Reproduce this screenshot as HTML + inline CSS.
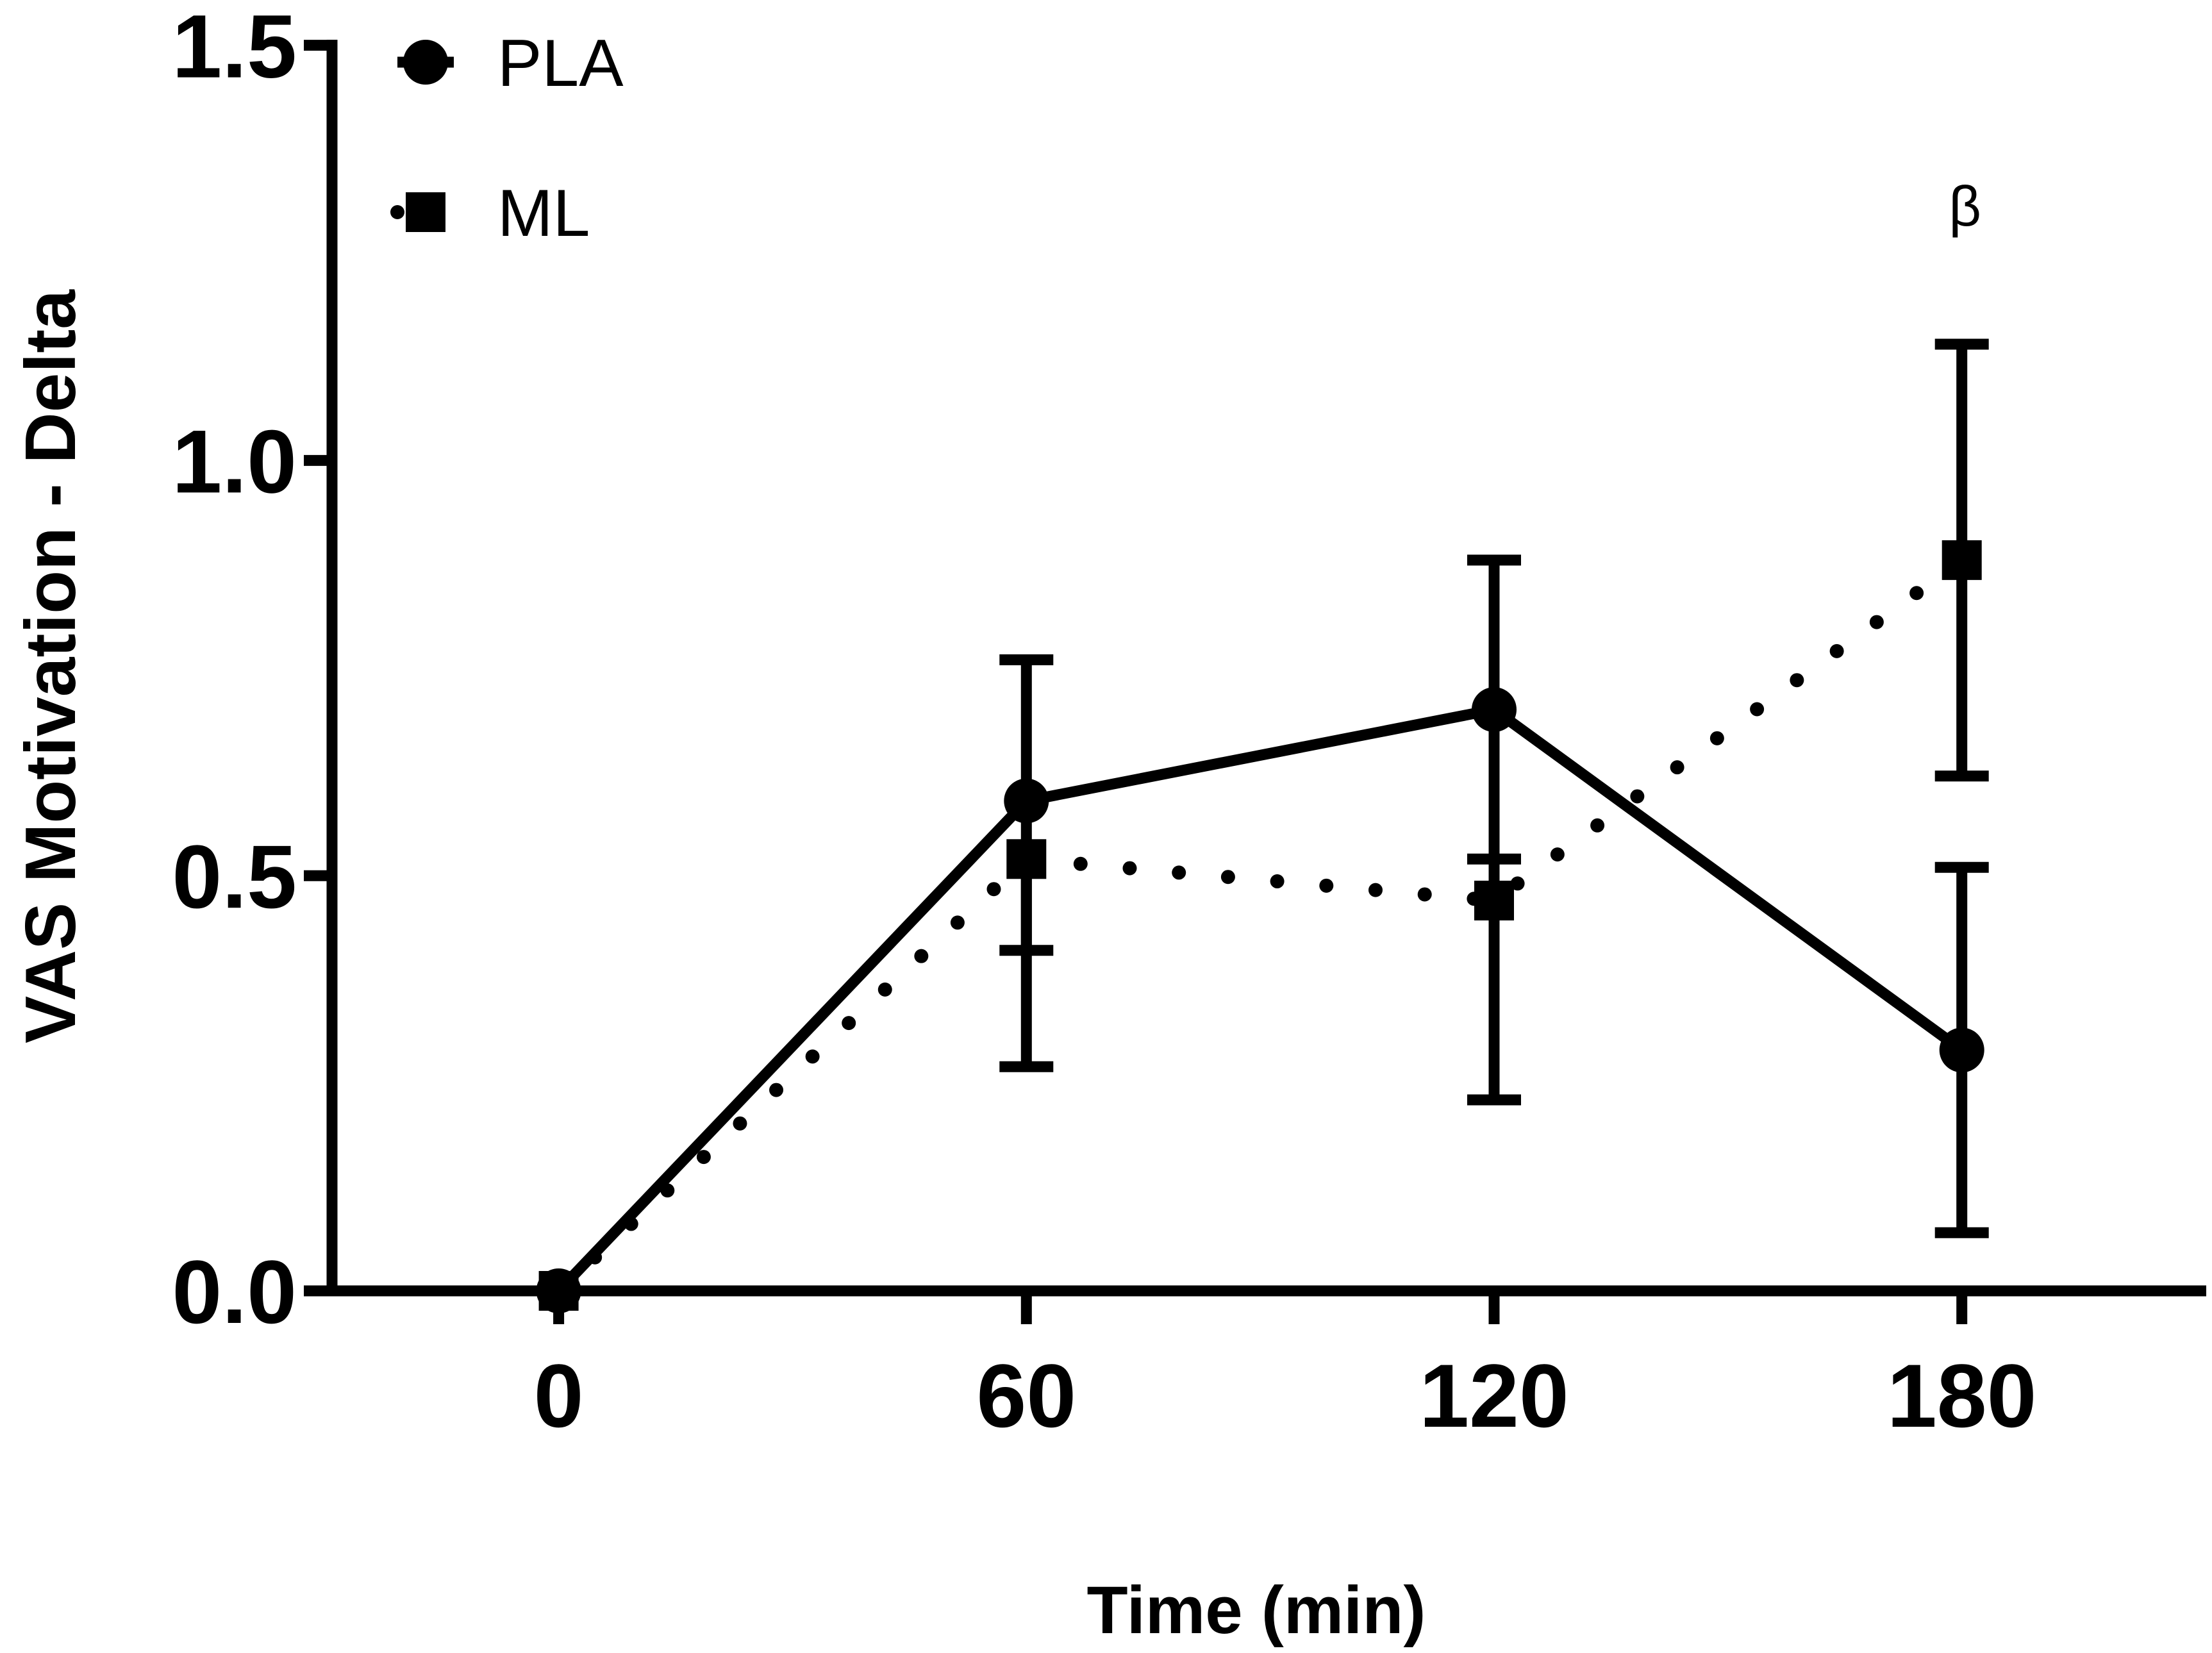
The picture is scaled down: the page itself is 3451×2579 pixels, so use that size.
<!DOCTYPE html>
<html><head><meta charset="utf-8"><style>
html,body{margin:0;padding:0;background:#fff}
svg{display:block}
text{font-family:"Liberation Sans",Arial,sans-serif}
</style></head><body>
<svg id="chart" width="3451" height="2579" viewBox="0 0 3451 2579" xmlns="http://www.w3.org/2000/svg"></svg>
<script>
const categories = [0, 60, 120, 180];
const plaValues = [0, 0.59, 0.70, 0.29];
const plaUpper = [0, 0.76, 0.88, 0.51];
const plaLower = [0, 0.27, 0.23, 0.07];
const mlValues = [0, 0.52, 0.47, 0.88];
const mlUpper = [0, 0.52, 0.52, 1.14];
const mlLower = [0, 0.41, 0.47, 0.62];
const yTicks = [0, 0.5, 1.0, 1.5];
const yTickLabels = ["0.0", "0.5", "1.0", "1.5"];
const xTickLabels = ["0", "60", "120", "180"];

const NS = "http://www.w3.org/2000/svg";
const svg = document.getElementById('chart');
const X0 = 871.6, XPER = 729.7 / 60;
const Y0 = 2014, YPER = 1295.6;
const SW = 17;
const xs = v => X0 + v * XPER;
const ys = v => Y0 - v * YPER;
function el(tag, attrs, parent) {
  const e = document.createElementNS(NS, tag);
  for (const k in attrs) e.setAttribute(k, attrs[k]);
  (parent || svg).appendChild(e);
  return e;
}
let a = el('line', {x1:518, y1:62, x2:518, y2:2022, stroke:'#000', 'stroke-width':SW});


a = el('line', {x1:496, y1:2014, x2:3442, y2:2014, stroke:'#000', 'stroke-width':SW});


yTicks.forEach((t, i) => {
  const tk = el('line', {x1:474, y1:ys(t), x2:518, y2:ys(t), stroke:'#000', 'stroke-width':SW});
  
  
  const tx = el('text', {x:463, y:ys(t)+50, 'text-anchor':'end', 'font-size':140, 'font-weight':'bold'});
  tx.textContent = yTickLabels[i];
  
  
});
categories.forEach((c, i) => {
  const tk = el('line', {x1:xs(c), y1:2014, x2:xs(c), y2:2066, stroke:'#000', 'stroke-width':SW});
  
  
  const tx = el('text', {x:xs(c), y:2226, 'text-anchor':'middle', 'font-size':140, 'font-weight':'bold'});
  tx.textContent = xTickLabels[i];
  
  
});
let t = el('text', {x:1960, y:2548, 'text-anchor':'middle', 'font-size':105, 'font-weight':'bold'});
t.textContent = 'Time (min)';


t = el('text', {x:0, y:0, 'text-anchor':'middle', 'font-size':111, 'font-weight':'bold', transform:'translate(117,1040) rotate(-90)'});
t.textContent = 'VAS Motivation - Delta';



function errBars(vals, up, lo, name) {
  categories.forEach((c, i) => {
    if (up[i] === lo[i]) return;
    const g = el('g', {stroke:'#000', 'stroke-width':SW});
    
    
    const x = xs(c);
    el('line', {x1:x, y1:ys(up[i]), x2:x, y2:ys(lo[i])}, g);
    if (up[i] !== vals[i]) el('line', {x1:x-42, y1:ys(up[i]), x2:x+42, y2:ys(up[i])}, g);
    if (lo[i] !== vals[i]) el('line', {x1:x-42, y1:ys(lo[i]), x2:x+42, y2:ys(lo[i])}, g);
  });
}
errBars(plaValues, plaUpper, plaLower, 'pla');
errBars(mlValues, mlUpper, mlLower, 'ml');

let p = el('polyline', {points: categories.map((c,i)=>xs(c)+','+ys(mlValues[i])).join(' '), fill:'none', stroke:'#000', 'stroke-width':22, 'stroke-linecap':'round', 'stroke-dasharray':'0 77'});


p = el('polyline', {points: categories.map((c,i)=>xs(c)+','+ys(plaValues[i])).join(' '), fill:'none', stroke:'#000', 'stroke-width':SW});



categories.forEach((c, i) => {
  const m = el('circle', {cx:xs(c), cy:ys(plaValues[i]), r:35, fill:'#000'});
  
  
  const s = el('rect', {x:xs(c)-31, y:ys(mlValues[i])-31, width:62, height:62, fill:'#000'});
  
  
});

const lg = el('g', {});


el('line', {x1:620, y1:97, x2:708, y2:97, stroke:'#000', 'stroke-width':SW}, lg);
el('circle', {cx:664, cy:97, r:35, fill:'#000'}, lg);
t = el('text', {x:776, y:134, 'font-size':104}, lg);
t.textContent = 'PLA';


el('line', {x1:620, y1:331, x2:708, y2:331, stroke:'#000', 'stroke-width':22, 'stroke-linecap':'round', 'stroke-dasharray':'0 88'}, lg);
el('rect', {x:633, y:300, width:62, height:62, fill:'#000'}, lg);
t = el('text', {x:776, y:368, 'font-size':104}, lg);
t.textContent = 'ML';



t = el('text', {x:xs(180)+5, y:352, 'text-anchor':'middle', 'font-size':88, 'font-family':'"Liberation Serif",serif'});
t.textContent = 'β';


</script>
</body></html>
